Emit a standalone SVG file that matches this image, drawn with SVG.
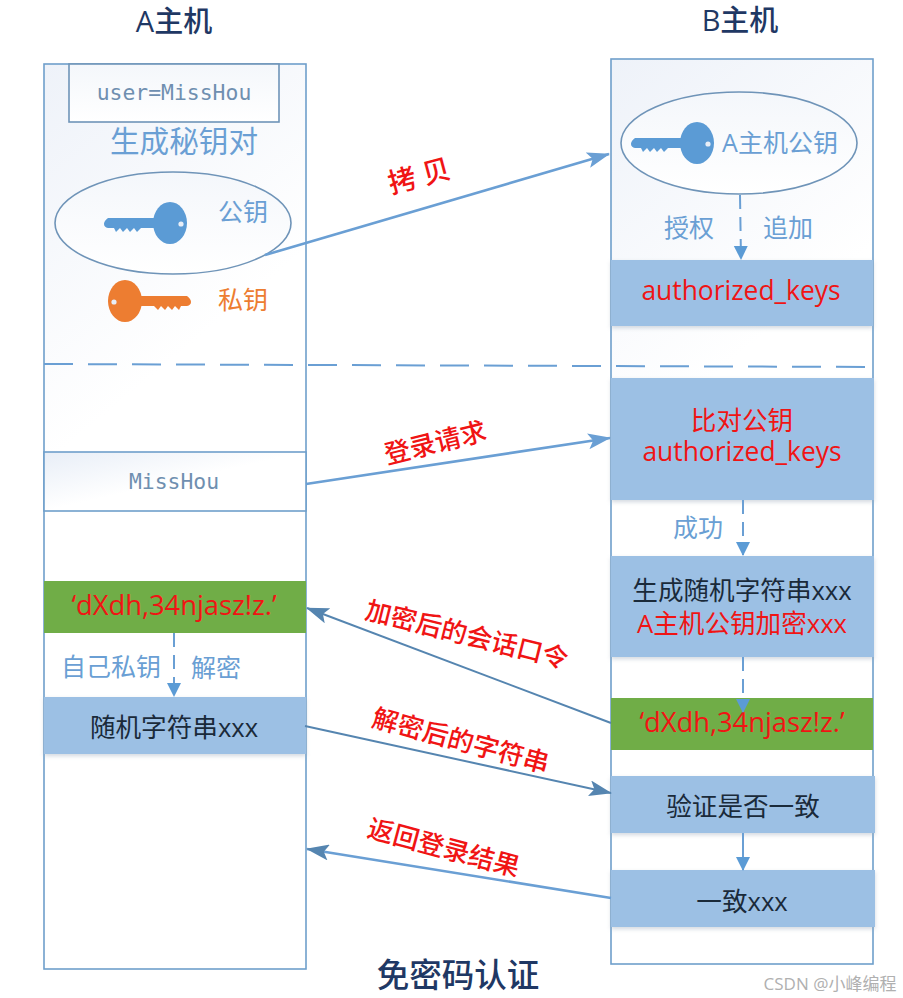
<svg xmlns="http://www.w3.org/2000/svg" width="903" height="998" viewBox="0 0 903 998">
<style>
text{font-family:"Open Sans","Noto Sans CJK SC",sans-serif;text-anchor:middle}
.host{fill:url(#g);stroke:#6f9fcb;stroke-width:1.6}
.box{fill:#9cc0e4;filter:url(#sh)}
.grn{fill:#70ad47}
.hd{font-size:29px;fill:#1f3864;font-weight:500}
.lb{font-size:25px;fill:#6a9fd4}
.red{font-size:25.6px;fill:#f01414}
.grt{font-size:27.3px;fill:#f01414}
.blk{font-size:25.6px;fill:#1a2a3a}
.rot{font-size:26px;fill:#f01414;font-weight:500;dominant-baseline:central}
.mono{font-family:"DejaVu Sans Mono","Liberation Mono",monospace;font-size:21.4px;fill:#6f8fb0;font-weight:500}
.ln{fill:none;stroke:#6a9fd4;stroke-width:2.6}
.dk{fill:none;stroke:#5585b0;stroke-width:2}
.ds{fill:none;stroke:#6a9fd4;stroke-width:2;stroke-dasharray:14 8}
.ell{fill:url(#g2);stroke:#6f94b8;stroke-width:1.6}
</style>
<defs>
<linearGradient id="g" x1="0" y1="0" x2="0.1" y2="0.42"><stop offset="0" stop-color="#eef2f9"/><stop offset="1" stop-color="#ffffff"/></linearGradient>
<linearGradient id="g2" x1="0" y1="0" x2="0" y2="1"><stop offset="0" stop-color="#f4f7fb"/><stop offset="1" stop-color="#ffffff"/></linearGradient>
<linearGradient id="g3" x1="0" y1="0" x2="1" y2="1"><stop offset="0" stop-color="#e8eef7"/><stop offset="0.5" stop-color="#ffffff"/></linearGradient>
<filter id="sh" x="-5%" y="-10%" width="110%" height="125%"><feDropShadow dx="0" dy="2" stdDeviation="2" flood-color="#9aa8b8" flood-opacity="0.45"/></filter>
<marker id="a" markerWidth="24" markerHeight="16" refX="22" refY="8" orient="auto" markerUnits="userSpaceOnUse"><path d="M0 0L23 8L0 16L5 8Z" fill="#6a9fd4"/></marker>
<marker id="b" markerWidth="24" markerHeight="16" refX="22" refY="8" orient="auto" markerUnits="userSpaceOnUse"><path d="M0 0L23 8L0 16L5 8Z" fill="#5585b0"/></marker>
<marker id="c" markerWidth="14" markerHeight="20" refX="13" refY="7" orient="auto" markerUnits="userSpaceOnUse"><path d="M0 0L14 7L0 14Z" fill="#5b9bd5"/></marker>
<g id="key"><ellipse cx="0" cy="0" rx="17" ry="21"/><path d="M-8 -5L-62 -5Q-66 -2 -66 1Q-66 4 -62 5L-56 5L-54 9L-50 5L-47 9L-43 5L-40 9L-36 5L-33 9L-29 5L-8 5Z"/><circle cx="11" cy="1" r="2.6" fill="#e8eef7"/></g>
</defs>

<g id="host-a">
<rect class="host" x="44" y="64" width="262" height="905"/>
</g>
<g id="host-b">
<rect class="host" x="611" y="59" width="262" height="905"/>
</g>
<text class="hd" x="174" y="32">A主机</text>
<text class="hd" x="740" y="31">B主机</text>

<g id="user-box"><rect x="69" y="64" width="210" height="58" fill="url(#g2)" stroke="#6f94b8" stroke-width="1.6"/><text class="mono" x="174" y="100">user=MissHou</text></g>
<text x="184" y="152" style="font-size:29.6px;fill:#6a9fd4">生成秘钥对</text>

<g id="pub-key"><ellipse class="ell" cx="173" cy="223" rx="118" ry="51"/><use href="#key" x="170" y="223" fill="#5b9bd5"/><text class="lb" x="243" y="221">公钥</text></g>
<g id="pri-key"><use href="#key" transform="translate(125 301) scale(-1 1)" fill="#ed7d31"/><text class="lb" x="243" y="309" style="fill:#ed7d31">私钥</text></g>

<g id="a-pub"><ellipse class="ell" cx="739" cy="143" rx="118" ry="51"/><use href="#key" x="697" y="143" fill="#5b9bd5"/><text class="lb" x="780" y="152">A主机公钥</text></g>
<text class="lb" x="689" y="237">授权</text>
<text class="lb" x="788" y="237">追加</text>
<g id="auth"><rect class="box" x="611" y="260" width="262" height="66"/><text class="red" x="741" y="300" style="font-size:26.4px">authorized_keys</text></g>

<g id="cmp"><rect class="box" x="611" y="378" width="263" height="122"/><text class="red" x="742" y="430">比对公钥</text><text class="red" x="742" y="461" style="font-size:26.4px">authorized_keys</text></g>
<text class="lb" x="698" y="537">成功</text>
<g id="gen"><rect class="box" x="611" y="556" width="263" height="101"/><text class="blk" x="742" y="600">生成随机字符串xxx</text><text class="red" x="742" y="633">A主机公钥加密xxx</text></g>
<g id="b-enc"><rect class="grn" x="611" y="698" width="262" height="52"/><text class="grt" x="742" y="732">‘dXdh,34njasz!z.’</text></g>
<g id="verify"><rect class="box" x="611" y="776" width="264" height="57"/><text class="blk" x="743" y="816">验证是否一致</text></g>
<g id="same"><rect class="box" x="611" y="870" width="264" height="57"/><text class="blk" x="742" y="911">一致xxx</text></g>

<g id="misshou"><rect x="44" y="452" width="262" height="59" fill="url(#g3)" stroke="#6f9fcb" stroke-width="1.6"/><text class="mono" x="174" y="489">MissHou</text></g>
<g id="a-enc"><rect class="grn" x="44" y="581" width="262" height="52"/><text class="grt" x="174" y="615">‘dXdh,34njasz!z.’</text></g>
<text class="lb" x="111" y="676">自己私钥</text>
<text class="lb" x="216" y="677">解密</text>
<g id="a-rand"><rect class="box" x="44" y="697" width="262" height="57"/><text class="blk" x="174" y="737">随机字符串xxx</text></g>

<g id="connectors">
<path class="ds" style="stroke-dasharray:29 15" d="M44 364L873 367"/>
<path class="ln" d="M265 255L609 154" marker-end="url(#a)"/>
<path class="ln" d="M306 484L610 438" marker-end="url(#a)"/>
<path class="dk" d="M611 723L307 608" marker-end="url(#b)"/>
<path class="dk" d="M305 726L611 793" marker-end="url(#b)"/>
<path class="ln" d="M611 898L307 849" marker-end="url(#b)"/>
<path class="ds" d="M740 195L741 259" marker-end="url(#c)"/>
<path class="ds" d="M743 500L743 555" marker-end="url(#c)"/>
<path class="ds" d="M743 657L743 712" marker-end="url(#c)"/>
<path class="ds" d="M174 633L174 696" marker-end="url(#c)"/>
<path class="ln" style="stroke-width:2" d="M743 833L743 870" marker-end="url(#c)"/>
</g>

<text class="rot" transform="translate(419 175) rotate(-15)" style="font-size:28px">拷 贝</text>
<text class="rot" transform="translate(435 442) rotate(-14)">登录请求</text>
<text class="rot" transform="translate(467 634) rotate(14)">加密后的会话口令</text>
<text class="rot" transform="translate(461 740) rotate(15)">解密后的字符串</text>
<text class="rot" transform="translate(444 847) rotate(15)">返回登录结果</text>
<text x="458" y="987" style="font-size:32.5px;font-weight:500;fill:#1f3864">免密码认证</text>
<text x="830" y="990" style="font-size:17px;fill:#b0b0b0">CSDN @小峰编程</text>
</svg>
